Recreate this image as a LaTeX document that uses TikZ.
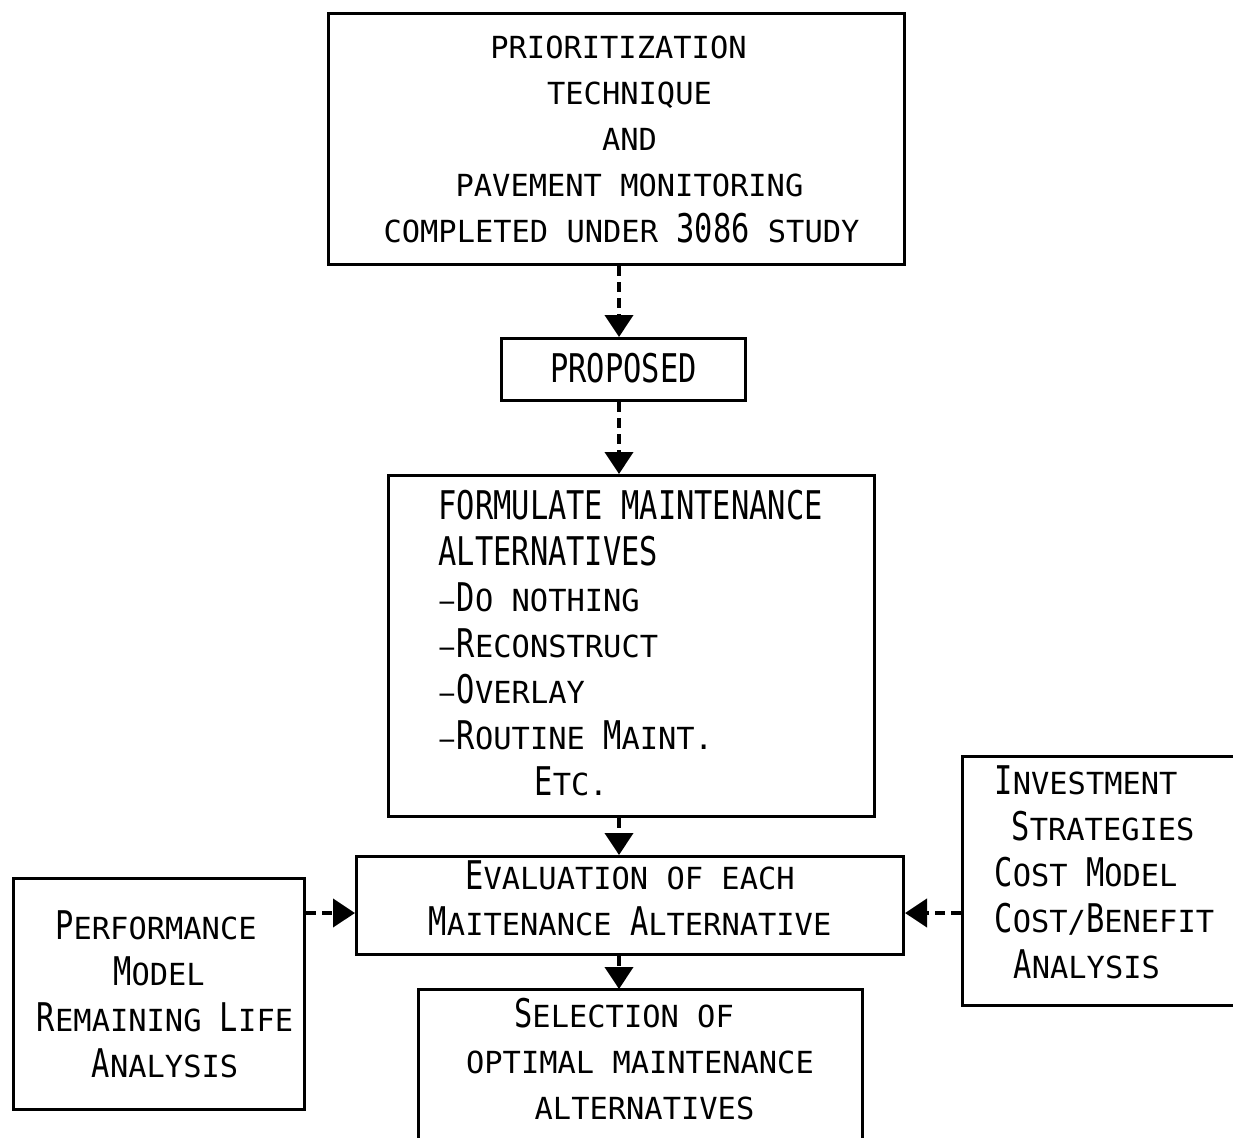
\documentclass[tikz,border=0pt]{standalone}
\usepackage{fontspec}
\setmonofont{DejaVu Sans Mono}
\usepackage{graphicx}
\usetikzlibrary{arrows.meta}
\newcommand{\BigL}[1]{\scalebox{1}[1.3]{#1}}
\newcommand{\SP}{\hspace{18.3pt}}
\newcommand{\DSH}{\makebox[18.3pt][l]{\hspace{1pt}\scalebox{0.8}[1]{–}}}
\begin{document}
\begin{tikzpicture}[x=1pt,y=-1pt,
  box/.style={draw, line width=3pt, inner sep=0pt, anchor=north west, align=center,
    font=\ttfamily\fontsize{30.4}{46}\selectfont},
  boxline/.style={line width=3pt},
  conn/.style={line width=4pt, dash pattern=on 10pt off 6pt,
    -{Triangle[width=28pt,length=22pt]}}]
\fill[white] (0,0) rectangle (1233,1137);
\useasboundingbox (0,0) rectangle (1233,1137);
\clip (0,0) rectangle (1233,1137);

\node[box, minimum width=576, minimum height=251] (top) at (327,12)
  {\hspace*{4pt}PRIORITIZATION\\\hspace*{26pt}TECHNIQUE\\\hspace*{26pt}AND\\\hspace*{26pt}PAVEMENT MONITORING\\\hspace*{10pt}COMPLETED UNDER \BigL{3086} STUDY};

\node[box, minimum width=244, minimum height=62, text depth=4pt] (prop) at (500,337) {\BigL{PROPOSED}};

\node[box, minimum width=486, minimum height=341, align=left, text width=386, inner xsep=50, text height=23pt] (form) at (387,474)
  {\BigL{FORMULATE\SP MAINTENANCE}\\\BigL{ALTERNATIVES}\\\DSH\BigL{D}O\SP NOTHING\\\DSH\BigL{R}ECONSTRUCT\\\DSH\BigL{O}VERLAY\\\DSH\BigL{R}OUTINE\SP\BigL{M}AINT.\\\hspace*{96pt}\BigL{E}TC.};

\node[box, minimum width=547, minimum height=98, text depth=14pt] (eval) at (355,855)
  {\BigL{E}VALUATION OF EACH\\\BigL{M}AITENANCE \BigL{A}LTERNATIVE};

\node[box, minimum width=291, minimum height=231] (left) at (12,877)
  {\BigL{P}ERFORMANCE\hspace*{6pt}\\\BigL{M}ODEL\hspace*{6pt}\\\hspace*{12pt}\BigL{R}EMAINING \BigL{L}IFE\\\hspace*{12pt}\BigL{A}NALYSIS};

\node[box, minimum width=300, minimum height=249, align=left, text width=236, inner xsep=32, text height=11pt] (right) at (961,755)
  {\BigL{I}NVESTMENT\\\hspace*{17pt}\BigL{S}TRATEGIES\\\BigL{C}OST\SP\BigL{M}ODEL\\\BigL{C}OST/\BigL{B}ENEFIT\\\hspace*{19pt}\BigL{A}NALYSIS};

\node[box, draw=none, minimum width=441, minimum height=142, text depth=6pt] (sel) at (418,989)
  {\BigL{S}ELECTION OF\hspace*{32pt}\\OPTIMAL MAINTENANCE\hspace*{9pt}\\\hspace*{9pt}ALTERNATIVES};
\draw[boxline] ([yshift=-40pt]sel.south west) -- (sel.north west) -- (sel.north east) -- ([yshift=-40pt]sel.south east);

\coordinate (ax) at (619,0);
\coordinate (ay) at (0,913);
\draw[conn] (top.south -| ax) -- (prop.north -| ax);
\draw[conn] (prop.south -| ax) -- (form.north -| ax);
\draw[conn] (form.south -| ax) -- (eval.north -| ax);
\draw[conn] (eval.south -| ax) -- (sel.north -| ax);
\draw[conn] (left.east |- ay) -- (eval.west |- ay);
\draw[conn] (right.west |- ay) -- (eval.east |- ay);
\end{tikzpicture}
\end{document}
